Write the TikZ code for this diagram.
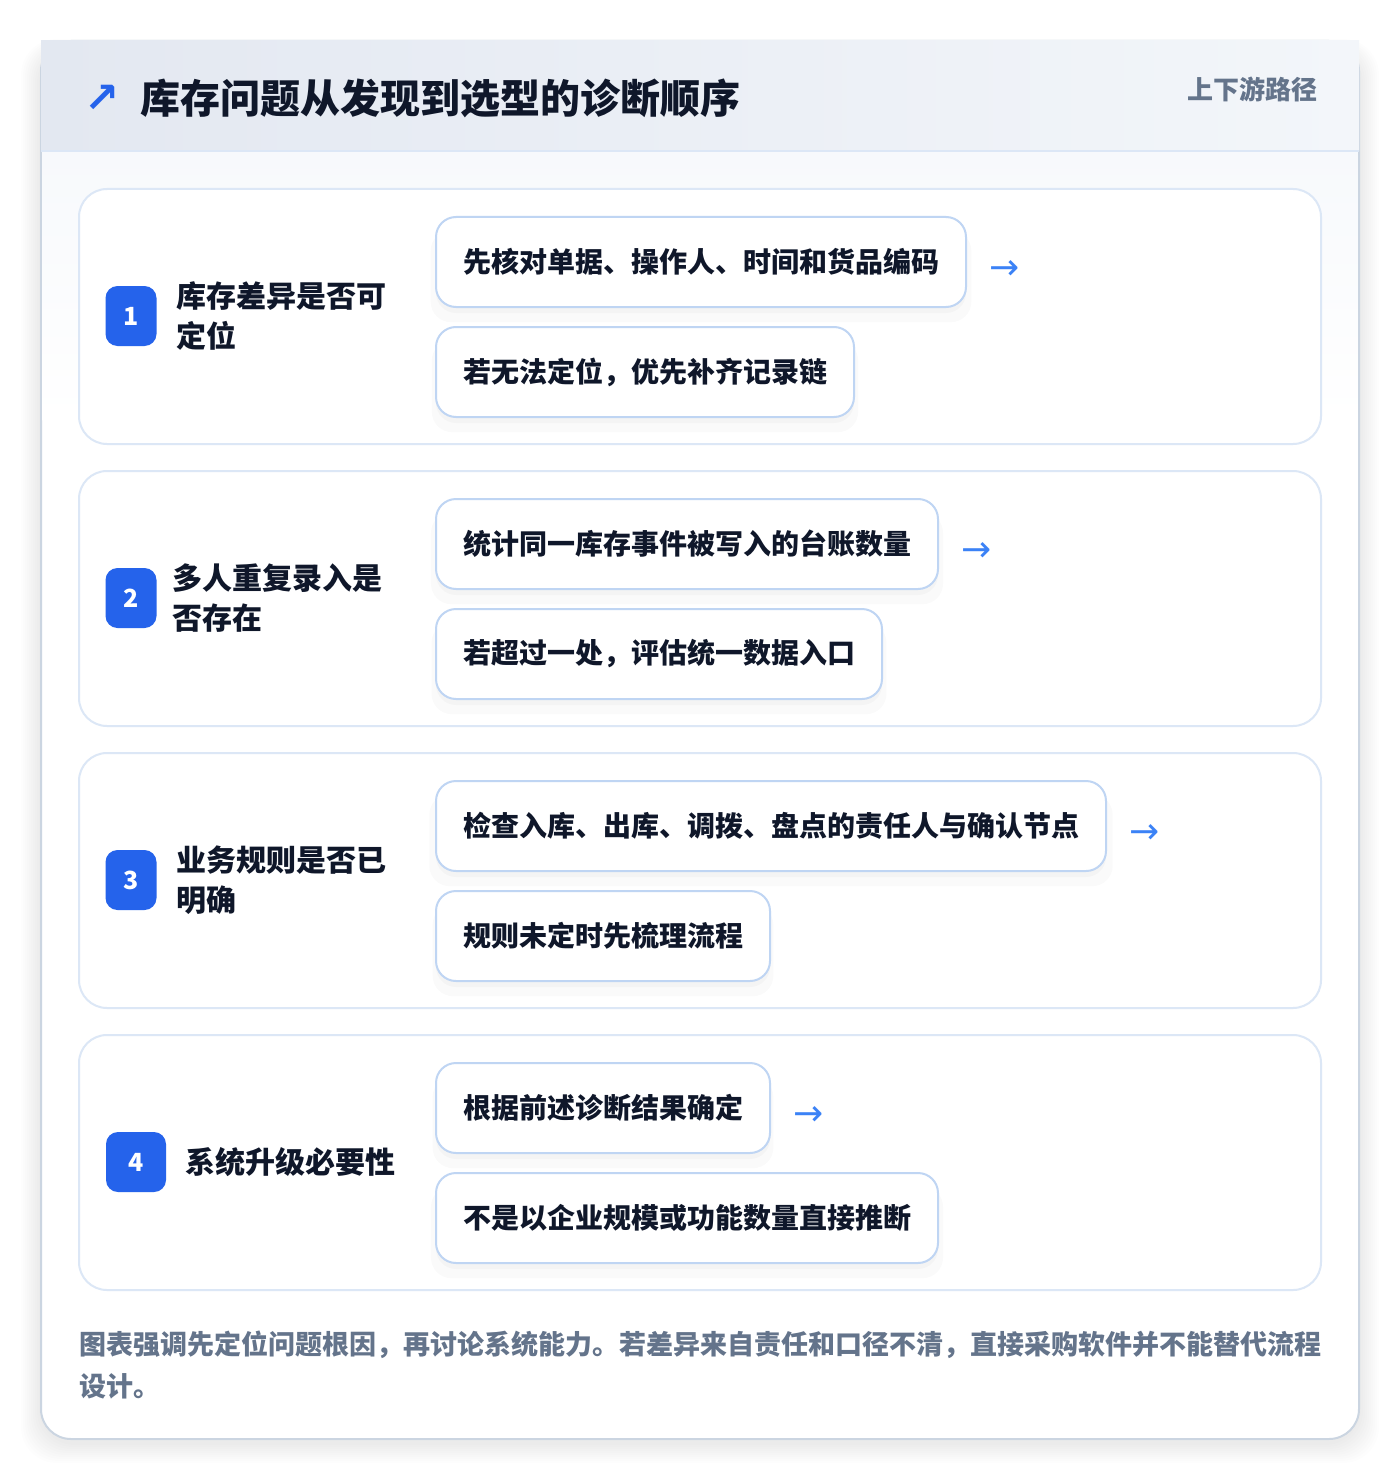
\documentclass[tikz,border=0pt]{standalone}
\usepackage{fontspec}
\setmainfont{Noto Sans CJK SC}
\newfontfamily\arrowfont{DejaVu Sans}
\usetikzlibrary{positioning, shadows}

\definecolor{ink}{HTML}{0F172A}
\definecolor{muted}{HTML}{64748B}
\definecolor{badgeblue}{HTML}{2563EB}
\definecolor{arrowblue}{HTML}{3B82F6}
\definecolor{cardline}{HTML}{DCE7F6}
\definecolor{boxline}{HTML}{BFD5F3}
\definecolor{frameline}{HTML}{CBD5E1}
\definecolor{headleft}{HTML}{E3E8F1}
\definecolor{headright}{HTML}{F3F6FA}
\definecolor{bodytop}{HTML}{F7F9FC}

\tikzset{
	card/.style={draw=cardline, line width=1pt, fill=white, rounded corners=14pt},
	itembox/.style={draw=boxline, line width=1pt, fill=white, rounded corners=10pt,
		inner xsep=13.5pt, minimum height=45pt, anchor=west, text=ink,
		font=\fontsize{14}{16}\selectfont\bfseries,
		general shadow={fill=black, opacity=0.018, shadow yshift=-7pt, shadow scale=1.02},
		general shadow={fill=black, opacity=0.025, shadow yshift=-3pt}},
	badge/.style={fill=badgeblue, rounded corners=6pt, minimum height=30pt, inner sep=0pt,
		text=white, font=\fontsize{12.5}{13}\selectfont\bfseries},
	steplabel/.style={font=\fontsize{15}{20}\selectfont\bfseries, text=ink, align=left, inner sep=0pt},
	nextarrow/.style={text=arrowblue, font=\arrowfont\fontsize{18}{18}\selectfont, inner sep=0pt, yshift=-4pt},
}

\begin{document}
\begin{tikzpicture}[x=0.5pt, y=-0.5pt]
	\useasboundingbox (0,0) rectangle (1400,1482);

	% soft shadow of the frame
	\foreach \i in {1,...,10}
	{
		\fill[black, opacity=0.007, rounded corners=18pt] (41-2*\i,41-\i+8) rectangle (1359+2*\i,1439+2*\i+4);
	}
	\draw[frameline, line width=1pt, fill=white, rounded corners=15pt] (41,41) rectangle (1359,1439);
	\shade[top color=bodytop, bottom color=white] (42.5,152) rectangle (1357.5,420);
	\shade[left color=headleft, right color=headright] (41,41) rectangle (1359,151);
	\draw[cardline, line width=1pt] (41,151) -- (1359,151);

	\node[text=badgeblue, font=\arrowfont\fontsize{21}{21}\selectfont\bfseries, inner sep=0pt] (icon) at (102,99) {↗};
	\node[anchor=west, inner sep=0pt, text=ink, font=\fontsize{20}{24}\selectfont\bfseries] (title) at (140,98) {库存问题从发现到选型的诊断顺序};
	\node[anchor=east, inner sep=0pt, text=muted, font=\fontsize{13}{15}\selectfont\bfseries] (tag) at (1318,89) {上下游路径};

	\foreach \n/\y/\bx/\bw/\gap/\lab/\first/\second in {
		1/189/131/25.5/9.5/{库存差异是否可\\定位}/{先核对单据、操作人、时间和货品编码}/{若无法定位，优先补齐记录链},
		2/471/131/25.5/7.5/{多人重复录入是\\否存在}/{统计同一库存事件被写入的台账数量}/{若超过一处，评估统一数据入口},
		3/753/131/25.5/9.5/{业务规则是否已\\明确}/{检查入库、出库、调拨、盘点的责任人与确认节点}/{规则未定时先梳理流程},
		4/1035/136/30/9.5/{系统升级必要性}/{根据前述诊断结果确定}/{不是以企业规模或功能数量直接推断}}
	{
		\draw[card] (79,\y) rectangle (1321,\y+255);
		\node[badge, minimum width=\bw pt] (badge\n) at (\bx,\y+127) {\n};
		\node[steplabel, right=\gap pt of badge\n] (step\n) {\lab};
		\node[itembox] (first\n) at (435,\y+73) {\first};
		\node[itembox] (second\n) at (435,\y+183) {\second};
		\node[nextarrow, right=11pt of first\n] (next\n) {→};
	}

	\node[anchor=north west, align=left, inner sep=0pt, text=muted, font=\fontsize{13.5}{21}\selectfont\bfseries] (note) at (79,1330)
		{图表强调先定位问题根因，再讨论系统能力。若差异来自责任和口径不清，直接采购软件并不能替代流程\\设计。};
\end{tikzpicture}
\end{document}
